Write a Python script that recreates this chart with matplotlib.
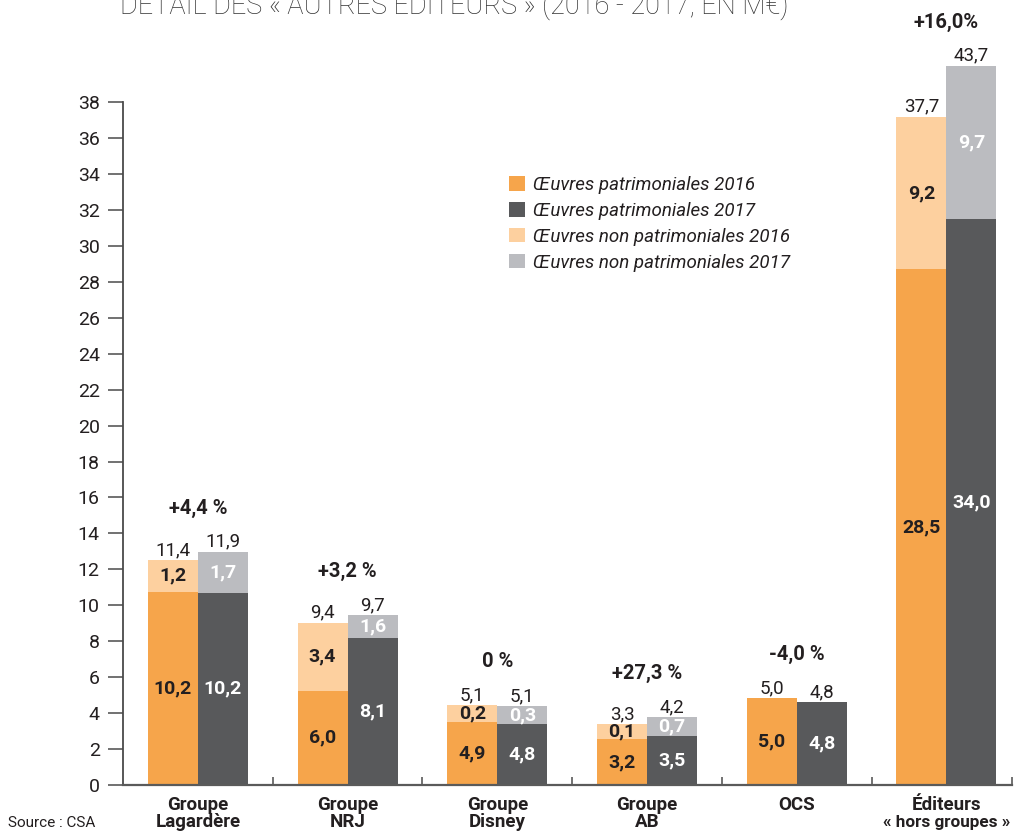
import matplotlib
matplotlib.use("Agg")
import matplotlib.pyplot as plt
from matplotlib.patches import Patch
import numpy as np

# ---------------- data ----------------
categories = ["Groupe\nLagardère", "Groupe\nNRJ", "Groupe\nDisney",
              "Groupe\nAB", "OCS", "Éditeurs\n« hors groupes »"]
# drawn bar segment heights (as measured against the y axis)
pat_2016 = [10.76, 5.25, 3.52, 2.54, 4.84, 28.70]
nonpat_2016 = [1.76, 3.78, 0.93, 0.85, 0.0, 8.49]
pat_2017 = [10.70, 8.20, 3.39, 2.73, 4.62, 31.50]
nonpat_2017 = [2.28, 1.26, 1.01, 1.05, 0.0, 8.53]
# printed value labels
pat_2016_lbl = ["10,2", "6,0", "4,9", "3,2", "5,0", "28,5"]
pat_2017_lbl = ["10,2", "8,1", "4,8", "3,5", "4,8", "34,0"]
nonpat_2016_lbl = ["1,2", "3,4", "0,2", "0,1", "", "9,2"]
nonpat_2017_lbl = ["1,7", "1,6", "0,3", "0,7", "", "9,7"]
total_2016_lbl = ["11,4", "9,4", "5,1", "3,3", "5,0", "37,7"]
total_2017_lbl = ["11,9", "9,7", "5,1", "4,2", "4,8", "43,7"]
evolution_lbl = ["+4,4 %", "+3,2 %", "0 %", "+27,3 %", "-4,0 %", "+16,0%"]
series_names = ["Œuvres patrimoniales 2016", "Œuvres patrimoniales 2017",
                "Œuvres non patrimoniales 2016", "Œuvres non patrimoniales 2017"]
yticks = list(range(0, 40, 2))
title = "DÉTAIL DES « AUTRES ÉDITEURS » (2016 - 2017, EN M€)"
source = "Source : CSA"

# ---------------- style ----------------
C_ORANGE = "#F6A54B"
C_DARK = "#58595B"
C_LORANGE = "#FDD09F"
C_GRAY = "#BBBCC0"
C_TEXT = "#231F20"
C_AXIS = "#4A4A4A"

W, H, DPI = 1014, 832, 100
fig = plt.figure(figsize=(W / DPI, H / DPI), dpi=DPI)
fig.patch.set_facecolor("white")

ax_left, ax_right, ax_bottom, ax_top = 123.0, 1012.0, 785.0, 0.0
ax = fig.add_axes([ax_left / W, (H - ax_bottom) / H,
                   (ax_right - ax_left) / W, (ax_bottom - ax_top) / H])
px_per_unit_x = 149.7
px_per_unit_y = 17.97
ax.set_xlim(-0.5, -0.5 + (ax_right - ax_left) / px_per_unit_x)
ax.set_ylim(0, (ax_bottom - ax_top) / px_per_unit_y)

x = np.arange(len(categories))
bw = 50.0 / px_per_unit_x
x16 = x - bw / 2
x17 = x + bw / 2

p16 = np.array(pat_2016)
n16 = np.array(nonpat_2016)
p17 = np.array(pat_2017)
n17 = np.array(nonpat_2017)

ax.bar(x16, p16, bw, color=C_ORANGE, linewidth=0, zorder=2)
ax.bar(x16, n16, bw, bottom=p16, color=C_LORANGE, linewidth=0, zorder=2)
ax.bar(x17, p17, bw, color=C_DARK, linewidth=0, zorder=2)
ax.bar(x17, n17, bw, bottom=p17, color=C_GRAY, linewidth=0, zorder=2)

BOLD = dict(family="Roboto", fontweight="bold", fontsize=14)
PCT = dict(family="Roboto", fontweight="bold", fontsize=14.5)
LIGHT = dict(family="Roboto", fontweight="normal", fontsize=13.5, color=C_TEXT)

for i in range(len(categories)):
    # inner labels
    ax.text(x16[i], p16[i] / 2, pat_2016_lbl[i], ha="center", va="center",
            color=C_TEXT, zorder=3, **BOLD)
    ax.text(x17[i], p17[i] / 2, pat_2017_lbl[i], ha="center", va="center",
            color="white", zorder=3, **BOLD)
    if nonpat_2016_lbl[i]:
        ax.text(x16[i], p16[i] + n16[i] / 2, nonpat_2016_lbl[i], ha="center",
                va="center", color=C_TEXT, zorder=3, **BOLD)
    if nonpat_2017_lbl[i]:
        ax.text(x17[i], p17[i] + n17[i] / 2, nonpat_2017_lbl[i], ha="center",
                va="center", color="white", zorder=3, **BOLD)
    # totals
    t16 = p16[i] + n16[i]
    t17 = p17[i] + n17[i]
    ax.annotate(total_2016_lbl[i], (x16[i], t16), xytext=(0, 5),
                textcoords="offset pixels", ha="center", va="baseline", **LIGHT)
    ax.annotate(total_2017_lbl[i], (x17[i], t17), xytext=(0, 5),
                textcoords="offset pixels", ha="center", va="baseline", **LIGHT)
    # evolution
    ax.annotate(evolution_lbl[i], (x[i], max(t16, t17)), xytext=(0, 38),
                textcoords="offset pixels", ha="center", va="baseline",
                color=C_TEXT, **PCT)

# axes styling
for s in ["top", "right"]:
    ax.spines[s].set_visible(False)
ax.spines["left"].set_bounds(0, 38)
ax.spines["left"].set_color(C_AXIS)
ax.spines["left"].set_linewidth(1.3)
ax.spines["bottom"].set_color("#5A5A5A")
ax.spines["bottom"].set_linewidth(1.6)
ax.spines["bottom"].set_zorder(4)

ax.set_yticks(yticks)
ax.set_yticklabels([str(v) for v in yticks], family="Roboto", fontsize=14,
                   color=C_TEXT)
ax.tick_params(axis="y", direction="out", length=10.8, width=1.1,
               color=C_AXIS, pad=6)

sep = list(np.arange(len(categories) - 1) + 0.5) + [ax.get_xlim()[1]]
ax.set_xticks(sep)
ax.set_xticklabels([])
ax.tick_params(axis="x", direction="in", length=5.5, width=1.1, color=C_AXIS)

# category labels (two lines, bold)
CAT = dict(family="Roboto", fontweight="bold", fontsize=13.5, color=C_TEXT,
           ha="center", va="baseline")
trans = ax.get_xaxis_transform()
line1_y = -(809.5 - ax_bottom) / (ax_bottom - ax_top)
line2_y = -(827.0 - ax_bottom) / (ax_bottom - ax_top)
for i, c in enumerate(categories):
    lines = c.split("\n")
    ax.text(x[i], line1_y, lines[0], transform=trans, **CAT)
    if len(lines) > 1:
        fs = 13.5 if i < len(categories) - 1 else 12.3
        ax.text(x[i], line2_y, lines[1], transform=trans,
                **{**CAT, "fontsize": fs})

# source
fig.text(8 / W, 1 - 827 / H, source, family="Roboto", fontweight="normal",
         fontsize=11, color=C_TEXT, ha="left", va="baseline")

# legend
handles = [Patch(facecolor=c, edgecolor="none")
           for c in [C_ORANGE, C_DARK, C_LORANGE, C_GRAY]]
leg = fig.legend(handles, series_names, loc="upper left",
                 bbox_to_anchor=(509 / W, 1 - 176 / H), frameon=False,
                 prop=dict(family="Roboto", style="italic", weight="normal",
                           size=13.5),
                 handlelength=0.85, handleheight=0.8, handletextpad=0.45,
                 labelspacing=0.42, borderpad=0, borderaxespad=0)
for t in leg.get_texts():
    t.set_color(C_TEXT)

# title (top part cut off by the figure edge), fitted to its width
tt = fig.text(120 / W, 1 - 14 / H, title, family="Roboto",
              fontweight="light", fontsize=24, color="#333333", ha="left",
              va="baseline")
fig.canvas.draw()
bb = tt.get_window_extent()
tt.set_fontsize(24 * 670.0 / bb.width)

fig.savefig("out.png", dpi=DPI, facecolor="white")
